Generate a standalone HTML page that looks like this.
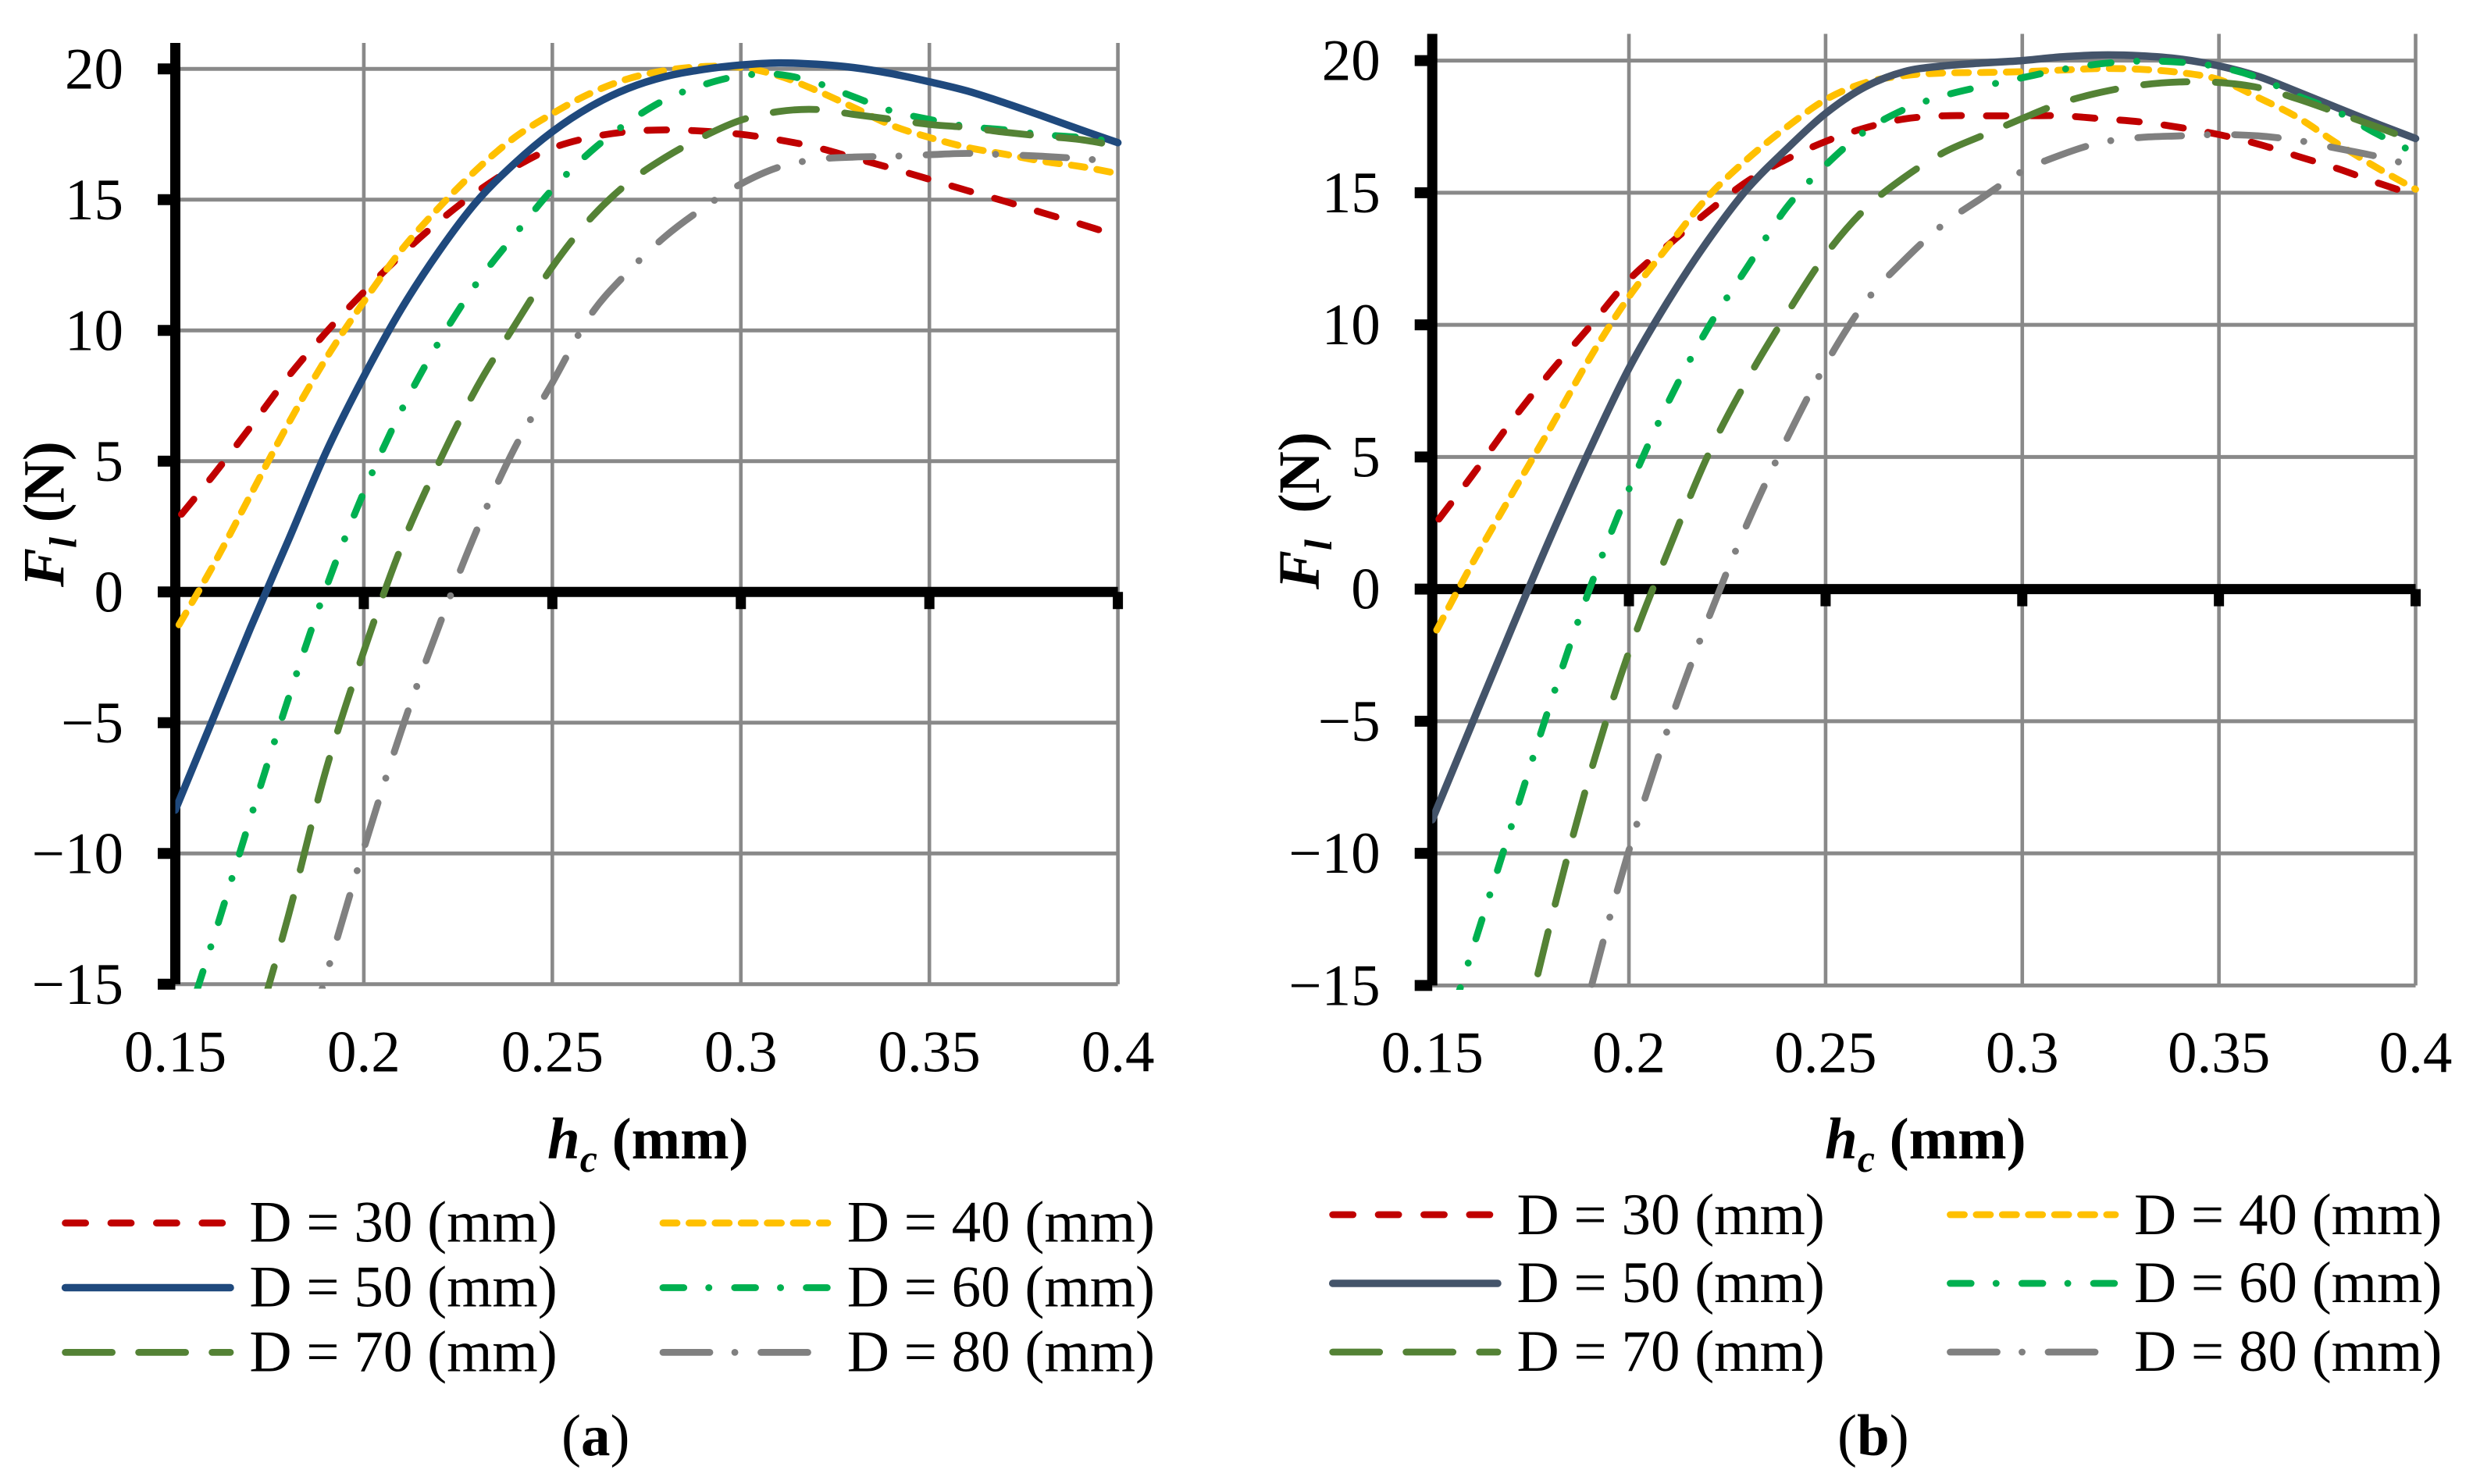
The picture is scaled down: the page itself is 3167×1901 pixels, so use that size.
<!DOCTYPE html>
<html lang="en">
<head>
<meta charset="utf-8">
<title>Lift force versus clearance height</title>
<style>
html,body{margin:0;padding:0;background:#fff;}
svg{display:block;font-family:"Liberation Serif",serif;}
text{fill:#000;font-size:75px;}
.series,.key{fill:none;stroke-width:8.8;stroke-linecap:round;stroke-linejoin:round;}
.d50a,.d50b{stroke-width:9.5;}
.d30{stroke:#c00000;}
.d40{stroke:#ffc000;}
.d50a{stroke:#1f497d;}
.d50b{stroke:#44546a;}
.d60{stroke:#00b050;}
.d70{stroke:#548235;}
.d80{stroke:#808080;}
.series.d30{stroke-dasharray:25 32;}
.series.d40{stroke-dasharray:17.5 15.5;}
.series.d60{stroke-dasharray:26 33 0.1 32.6;}
.series.d70{stroke-dasharray:55.5 36.5;}
.series.d80{stroke-dasharray:56 33 0.1 34.9;}
.key.d30{stroke-dasharray:26 32.4;}
.key.d40{stroke-dasharray:18 15.4;}
.key.d60{stroke-dasharray:26.7 32 0.1 33;}
.key.d70{stroke-dasharray:60 34;}
.key.d80{stroke-dasharray:60 32 0.1 33.4;}
</style>
</head>
<body>
<svg id="figure" xmlns="http://www.w3.org/2000/svg" width="3167" height="1901" viewBox="0 0 3167 1901">
<rect width="3167" height="1901" fill="#fff"/>
<defs>
<clipPath id="clip-a"><rect x="224.5" y="0" width="1220" height="1266.5"/></clipPath>
<clipPath id="clip-b"><rect x="1834.2" y="0" width="1270" height="1268"/></clipPath>
</defs>
<g id="panel-a"></g>
<g id="panel-b"></g>

<text x="0" y="0" transform="translate(81.6 752) rotate(-90)" font-weight="bold"><tspan font-style="italic">F</tspan><tspan font-style="italic" dy="16" style="font-size:50px">l</tspan><tspan dy="-16"> (N)</tspan></text>
<text x="701" y="1484" font-weight="bold"><tspan font-style="italic">h</tspan><tspan font-style="italic" dy="17" style="font-size:50px">c</tspan><tspan dy="-17"> (mm)</tspan></text>

<text x="0" y="0" transform="translate(1689 755) rotate(-90)" font-weight="bold"><tspan font-style="italic">F</tspan><tspan font-style="italic" dy="16" style="font-size:50px">l</tspan><tspan dy="-16" dx="15"> (N)</tspan></text>
<text x="2337" y="1484" font-weight="bold"><tspan font-style="italic">h</tspan><tspan font-style="italic" dy="17" style="font-size:50px">c</tspan><tspan dy="-17"> (mm)</tspan></text>

<g>
<path class="key d30" d="M83.6 1566.7H295"/>
<text x="319.4" y="1590.6">D = 30 (mm)</text>
<path class="key d40" d="M849 1566.7H1060"/>
<text x="1084.7" y="1590.6">D = 40 (mm)</text>
<path class="key d50a" d="M83.6 1649.5H295"/>
<text x="319.4" y="1673.5">D = 50 (mm)</text>
<path class="key d60" d="M849 1649.5H1060"/>
<text x="1084.7" y="1673.5">D = 60 (mm)</text>
<path class="key d70" d="M83.6 1732.4H295"/>
<text x="319.4" y="1756.3">D = 70 (mm)</text>
<path class="key d80" d="M849 1732.4H1060"/>
<text x="1084.7" y="1756.3">D = 80 (mm)</text>
</g>

<g>
<path class="key d30" d="M1706.7 1556H1918"/>
<text x="1942.5" y="1581">D = 30 (mm)</text>
<path class="key d40" d="M2497.5 1556H2709"/>
<text x="2733" y="1581">D = 40 (mm)</text>
<path class="key d50b" d="M1706.7 1644H1918"/>
<text x="1942.5" y="1668">D = 50 (mm)</text>
<path class="key d60" d="M2497.5 1644H2709"/>
<text x="2733" y="1668">D = 60 (mm)</text>
<path class="key d70" d="M1706.7 1732H1918"/>
<text x="1942.5" y="1756">D = 70 (mm)</text>
<path class="key d80" d="M2497.5 1732H2709"/>
<text x="2733" y="1756">D = 80 (mm)</text>
</g>

<text x="719" y="1864">(<tspan font-weight="bold">a</tspan>)</text>
<text x="2353" y="1864">(<tspan font-weight="bold">b</tspan>)</text>
</svg>

<script>
var hcValues = [0.15,0.16,0.17,0.18,0.19,0.20,0.21,0.22,0.23,0.24,0.25,0.26,0.27,0.28,0.29,0.30,0.31,0.32,0.33,0.34,0.35,0.36,0.37,0.38,0.39,0.40];
var xTickValues = [0.15,0.2,0.25,0.3,0.35,0.4];
var xTickLabels = ["0.15","0.2","0.25","0.3","0.35","0.4"];
var yTickValues = [20,15,10,5,0,-5,-10,-15];
var yTickLabels = ["20","15","10","5","0","\u22125","\u221210","\u221215"];

var panelA_D30 = [2.68,4.45,6.32,8.24,9.93,11.47,12.9,14.18,15.3,16.24,16.97,17.38,17.6,17.67,17.62,17.5,17.29,17.0,16.6,16.2,15.78,15.35,14.94,14.5,14.07,13.62];
var panelA_D40 = [-1.5,1.0,3.72,6.44,8.93,11.1,13.08,14.71,16.16,17.38,18.29,19.06,19.62,19.94,20.09,20.06,19.74,19.18,18.52,17.84,17.38,17.0,16.74,16.47,16.27,16.0];
var panelA_D50 = [-8.34,-4.85,-1.36,1.98,5.35,8.24,10.83,13.04,14.94,16.39,17.6,18.55,19.25,19.71,19.98,20.15,20.23,20.18,20.05,19.82,19.51,19.16,18.7,18.2,17.68,17.18];
var panelA_D60 = [-17.8,-13.3,-8.62,-4.07,0.16,3.82,6.95,9.58,11.82,13.65,15.4,16.82,17.95,18.83,19.39,19.74,19.79,19.47,18.93,18.39,18.07,17.8,17.67,17.49,17.38,17.2];
var panelA_D70 = [-28,-22.5,-17.45,-12.38,-6.79,-2.27,1.75,4.97,7.83,10.19,12.43,14.26,15.63,16.62,17.41,18.04,18.37,18.45,18.26,18.07,17.88,17.76,17.58,17.43,17.3,17.05];
var panelA_D80 = [null,-31,-25,-19.5,-14.67,-9.82,-5.28,-1.28,2.38,5.5,8.0,10.56,12.23,13.6,14.68,15.6,16.24,16.54,16.63,16.66,16.72,16.77,16.72,16.66,16.57,16.45];

var panelB_D30 = [2.32,4.27,6.32,8.2,9.93,11.7,13.02,14.27,15.42,16.26,16.94,17.45,17.79,17.91,17.91,17.91,17.91,17.8,17.68,17.47,17.2,16.84,16.38,15.92,15.39,14.9];
var panelB_D40 = [-1.87,0.92,3.53,6.09,8.73,11.06,12.98,14.83,16.26,17.47,18.52,19.16,19.43,19.53,19.55,19.58,19.64,19.7,19.67,19.55,19.28,18.6,17.85,16.87,15.96,15.13];
var panelB_D50 = [-8.73,-5.14,-1.56,1.94,5.26,8.35,10.91,13.17,15.13,16.64,18.0,19.0,19.58,19.8,19.91,20.0,20.14,20.21,20.18,20.06,19.8,19.4,18.82,18.22,17.62,17.05];
var panelB_D60 = [-18.4,-13.75,-9.03,-4.35,0.0,3.78,7.07,9.86,12.16,14.42,16.04,17.32,18.15,18.67,19.03,19.35,19.66,19.88,19.98,19.94,19.76,19.35,18.67,18.07,17.24,16.5];
var panelB_D70 = [-29,-23.8,-18.74,-12.65,-7.07,-2.38,1.45,5.03,7.9,10.38,12.65,14.38,15.58,16.52,17.17,17.81,18.4,18.8,19.07,19.19,19.17,18.98,18.55,18.03,17.5,16.94];
var panelB_D80 = [null,null,-27.5,-21.6,-15.3,-9.89,-5.24,-1.19,2.45,5.64,8.5,10.84,12.45,13.81,14.83,15.81,16.44,16.9,17.09,17.15,17.2,17.15,16.98,16.68,16.38,15.99];

var SVG_NS = 'http://www.w3.org/2000/svg';

function makeEl(tag, attrs, parent) {
  var node = document.createElementNS(SVG_NS, tag);
  for (var key in attrs) { node.setAttribute(key, attrs[key]); }
  parent.appendChild(node);
  return node;
}

function smoothPath(xs, ys, xScale, yScale) {
  var pts = [];
  xs.forEach(function (v, i) {
    if (ys[i] !== null) { pts.push([xScale(v), yScale(ys[i])]); }
  });
  var d = 'M' + pts[0][0].toFixed(2) + ' ' + pts[0][1].toFixed(2);
  for (var i = 0; i < pts.length - 1; i++) {
    var p0 = pts[Math.max(i - 1, 0)], p1 = pts[i], p2 = pts[i + 1], p3 = pts[Math.min(i + 2, pts.length - 1)];
    var c1x = p1[0] + (p2[0] - p0[0]) / 6, c1y = p1[1] + (p2[1] - p0[1]) / 6;
    var c2x = p2[0] - (p3[0] - p1[0]) / 6, c2y = p2[1] - (p3[1] - p1[1]) / 6;
    d += 'C' + c1x.toFixed(2) + ' ' + c1y.toFixed(2) + ' ' + c2x.toFixed(2) + ' ' + c2y.toFixed(2) + ' ' + p2[0].toFixed(2) + ' ' + p2[1].toFixed(2);
  }
  return d;
}

function lengthAtX(path, targetX) {
  var lo = 0, hi = path.getTotalLength();
  for (var i = 0; i < 30; i++) {
    var mid = (lo + hi) / 2;
    if (path.getPointAtLength(mid).x < targetX) { lo = mid; } else { hi = mid; }
  }
  return lo;
}

function drawPanel(id, clipId, frame, seriesList) {
  var root = document.getElementById(id);
  var xScale = function (v) { return frame.x0 + (v - 0.15) / 0.25 * (frame.x1 - frame.x0); };
  var yScale = function (v) { return frame.y0 - v * frame.unit; };
  var GRID = '#898989';

  yTickValues.forEach(function (v, i) {
    var gridLine = makeEl('line', {x1: frame.x0, x2: frame.x1, y1: yScale(v), y2: yScale(v), stroke: GRID, 'stroke-width': 5}, root);
    
    
    var label = makeEl('text', {x: frame.x0 - 66.5, y: yScale(v) + 25, 'text-anchor': 'end'}, root);
    label.textContent = yTickLabels[i];
    
    
  });

  xTickValues.forEach(function (v, i) {
    if (i > 0) {
      var gridLine = makeEl('line', {x1: xScale(v), x2: xScale(v), y1: frame.top, y2: yScale(-15), stroke: GRID, 'stroke-width': 4.6}, root);
      
      
    }
    var label = makeEl('text', {x: xScale(v), y: frame.labelY, 'text-anchor': 'middle'}, root);
    label.textContent = xTickLabels[i];
    
    
  });

  var yAxis = makeEl('line', {x1: frame.x0, x2: frame.x0, y1: frame.top, y2: yScale(-15), stroke: '#000', 'stroke-width': 13}, root);
  
  
  var xAxis = makeEl('line', {x1: frame.x0 - 22, x2: frame.x1, y1: yScale(0), y2: yScale(0), stroke: '#000', 'stroke-width': 13}, root);
  
  

  yTickValues.forEach(function (v) {
    var tick = makeEl('line', {x1: frame.x0 - 22.5, x2: frame.x0, y1: yScale(v), y2: yScale(v), stroke: '#000', 'stroke-width': 14}, root);
    
    
  });
  xTickValues.slice(1).forEach(function (v) {
    var tick = makeEl('line', {x1: xScale(v), x2: xScale(v), y1: yScale(0), y2: yScale(0) + 22, stroke: '#000', 'stroke-width': 13}, root);
    
    
  });

  var plot = makeEl('g', {'clip-path': 'url(#' + clipId + ')'}, root);
  
  
  seriesList.forEach(function (s) {
    var line = makeEl('path', {d: smoothPath(hcValues, s.values, xScale, yScale), 'class': 'series ' + s.cls}, plot);
    
    
    if (s.dashStart) {
      line.style.strokeDashoffset = String(-lengthAtX(line, xScale(s.dashStart)));
    }
  });
}

drawPanel('panel-a', 'clip-a',
  {x0: 224.5, x1: 1431.6, y0: 758.3, unit: 33.5, top: 55, labelY: 1372.7},
  [{name: 'd30', cls: 'd30', values: panelA_D30, dashStart: 0.2219},
   {name: 'd40', cls: 'd40', values: panelA_D40, dashStart: 0.224},
   {name: 'd50', cls: 'd50a', values: panelA_D50},
   {name: 'd60', cls: 'd60', values: panelA_D60, dashStart: 0.2229},
   {name: 'd70', cls: 'd70', values: panelA_D70, dashStart: 0.2284},
   {name: 'd80', cls: 'd80', values: panelA_D80, dashStart: 0.2479}]);

drawPanel('panel-b', 'clip-b',
  {x0: 1834.2, x1: 3093.5, y0: 754.6, unit: 33.85, top: 43.4, labelY: 1373.7},
  [{name: 'd30', cls: 'd30', values: panelB_D30, dashStart: 0.2182},
   {name: 'd40', cls: 'd40', values: panelB_D40, dashStart: 0.2206},
   {name: 'd50', cls: 'd50b', values: panelB_D50},
   {name: 'd60', cls: 'd60', values: panelB_D60, dashStart: 0.2384},
   {name: 'd70', cls: 'd70', values: panelB_D70, dashStart: 0.2319},
   {name: 'd80', cls: 'd80', values: panelB_D80, dashStart: 0.2298}]);
</script>
</body>
</html>
